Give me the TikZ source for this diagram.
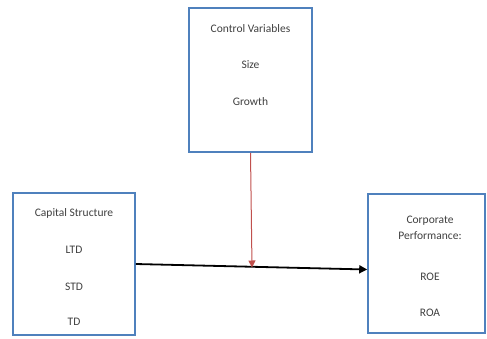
\documentclass[tikz,border=0pt]{standalone}
\usepackage{fontspec}
\setmainfont{Carlito}
\usetikzlibrary{arrows.meta}

\definecolor{boxblue}{RGB}{79,129,189}
\definecolor{linkred}{RGB}{192,80,77}

\begin{document}
\begin{tikzpicture}[x=1pt,y=-1pt,
  varbox/.style={draw=boxblue, line width=1.6pt, fill=white, inner sep=0pt},
  vartext/.style={text=black!75, font=\fontsize{11.5}{13}\selectfont, inner sep=0pt}]
\useasboundingbox (0,0) rectangle (487,338);

% boxes
\node[varbox, minimum width=123pt, minimum height=144pt] (cv) at (250.5,80) {};
\node[varbox, minimum width=122pt, minimum height=142pt] (cs) at (74,264) {};
\node[varbox, minimum width=117pt, minimum height=139pt] (cp) at (426.5,263.5) {};

% control variables
\node[vartext] (cvt) at (250.5,29) {Control Variables};
\node[vartext] (size) at (250.5,65) {Size};
\node[vartext] (growth) at (250.5,102) {Growth};

% capital structure
\node[vartext] (cst) at (74,213) {Capital Structure};
\node[vartext] (ltd) at (74,250) {LTD};
\node[vartext] (std) at (74,287) {STD};
\node[vartext] (td) at (74,322) {TD};

% corporate performance
\node[vartext, align=center] (cpt) at (430,228) {Corporate\\[3pt]Performance:};
\node[vartext] (roe) at (430,277) {ROE};
\node[vartext] (roa) at (430,313) {ROA};

% links
\coordinate (hit) at (252,267.5);
\draw[line width=1.8pt, -{Triangle[length=8pt,width=8pt]}] (cs.east) -- ([yshift=-6pt]cp.west);
\draw[linkred, line width=1pt, -{Triangle[length=7pt,width=7pt]}] (cv.south) -- (hit);
\end{tikzpicture}
\end{document}
